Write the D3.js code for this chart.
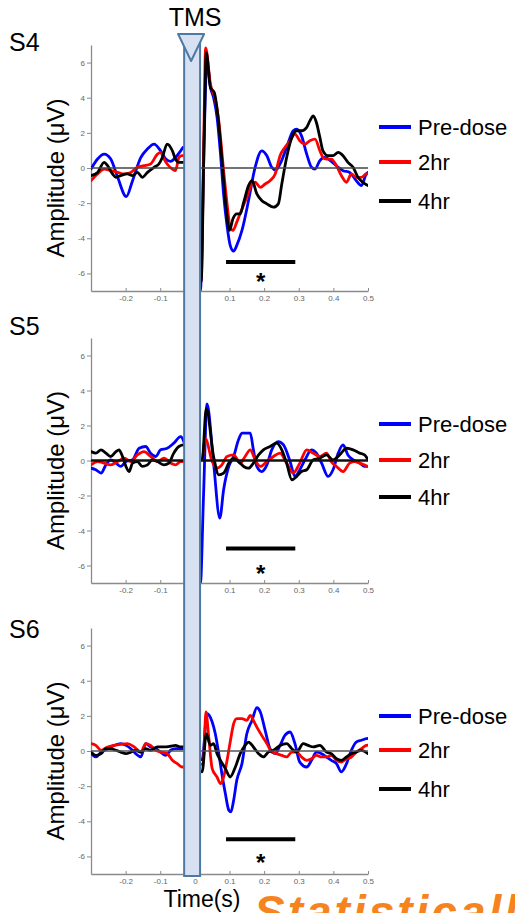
<!DOCTYPE html>
<html>
<head>
<meta charset="utf-8">
<script src="https://cdn.jsdelivr.net/npm/d3@7"></script>
<style>
  html, body { margin: 0; padding: 0; background: #fff; }
  svg { display: block; font-family: "Liberation Sans", Arial, sans-serif; }
</style>
</head>
<body>
<script>
// ---- data ----------------------------------------------------------------
const subjects = ["S4", "S5", "S6"];
const conditions = ["Pre-dose", "2hr", "4hr"];
const conditionColors = ["#0000ff", "#ff0000", "#000000"];

const timeTicks = [-0.2, -0.1, 0, 0.1, 0.2, 0.3, 0.4, 0.5];
const timeTickLabels = ["-0.2", "-0.1", "0", "0.1", "0.2", "0.3", "0.4", "0.5"];
const ampTicks = [-6, -4, -2, 0, 2, 4, 6];
const ampTickLabels = ["-6", "-4", "-2", "0", "2", "4", "6"];
const timeDomain = [-0.3, 0.5];
const ampDomain = [-7, 7];

// TMS pulse window (s) and significant window (s)
const tmsWindow = [-0.031, 0.015];
const sigWindow = [0.09, 0.29];
const sigBarLevel = [-5.35, -5.03, -5.02];
const sigStarLevel = [-6.2, -6.2, -6.1];

// TMS-evoked potentials, [time (s), amplitude (uV)]
const s4PreDose = [[-0.300,-0.06],[-0.281,0.51],[-0.262,0.79],[-0.243,0.51],[-0.223,-0.53],[-0.198,-1.63],[-0.180,-0.72],[-0.156,0.60],[-0.137,1.08],[-0.118,1.36],[-0.099,0.98],[-0.084,0.51],[-0.070,0.38],[-0.056,0.60],[-0.041,0.98],[-0.032,1.20],
  [0.016,-7.0],[0.025,0.0],[0.033,5.6],[0.036,5.9],[0.045,4.6],[0.054,4.0],[0.064,2.9],[0.074,0.8],[0.083,-1.5],[0.093,-3.3],[0.102,-4.4],[0.112,-4.73],[0.121,-4.4],[0.136,-3.55],[0.155,-1.85],[0.174,0.04],[0.193,0.98],[0.208,0.70],[0.222,0.04],[0.234,-0.11],[0.246,0.23],[0.265,1.17],[0.284,2.12],[0.294,2.21],[0.308,1.83],[0.323,0.79],[0.337,0.04],[0.347,-0.06],[0.361,0.42],[0.375,0.60],[0.394,0.38],[0.414,0.04],[0.428,-0.15],[0.447,-0.25],[0.466,-0.72],[0.481,-1.00],[0.495,-0.34],[0.500,-0.25]];
const s4Hr2 = [[-0.300,-0.72],[-0.281,-0.34],[-0.262,-0.06],[-0.243,-0.15],[-0.223,-0.25],[-0.204,-0.34],[-0.185,-0.25],[-0.166,0.04],[-0.147,0.13],[-0.128,0.23],[-0.108,0.79],[-0.099,0.89],[-0.089,0.51],[-0.080,0.23],[-0.065,-0.06],[-0.056,-0.15],[-0.046,0.60],[-0.037,0.70],[-0.032,0.70],
  [0.018,-6.5],[0.026,2.0],[0.031,6.84],[0.045,4.76],[0.059,3.91],[0.069,2.68],[0.083,-0.15],[0.093,-2.04],[0.102,-3.36],[0.110,-3.55],[0.121,-3.08],[0.136,-2.33],[0.150,-1.66],[0.165,-0.91],[0.174,-0.81],[0.189,-1.10],[0.203,-0.91],[0.217,-0.72],[0.232,-0.34],[0.246,0.70],[0.260,1.17],[0.275,1.55],[0.289,1.93],[0.303,1.55],[0.318,1.36],[0.332,1.55],[0.347,1.64],[0.361,0.98],[0.370,0.60],[0.380,0.51],[0.394,0.51],[0.409,0.13],[0.423,-0.43],[0.438,-0.81],[0.452,-0.34],[0.466,-0.53],[0.481,-0.53],[0.495,-0.34],[0.500,-0.34]];
const s4Hr4 = [[-0.300,-0.43],[-0.281,-0.25],[-0.262,0.32],[-0.252,0.13],[-0.238,-0.34],[-0.228,-0.53],[-0.214,-0.43],[-0.195,-0.34],[-0.180,-0.43],[-0.166,-0.25],[-0.152,-0.53],[-0.137,-0.25],[-0.118,0.04],[-0.104,0.23],[-0.094,0.60],[-0.080,1.36],[-0.065,0.98],[-0.056,0.51],[-0.046,0.32],[-0.032,0.32],
  [0.018,-6.5],[0.027,2.0],[0.033,6.56],[0.045,4.57],[0.056,4.29],[0.066,3.06],[0.080,0.04],[0.090,-2.23],[0.100,-3.55],[0.110,-2.89],[0.121,-2.61],[0.131,-2.61],[0.141,-1.95],[0.155,-1.00],[0.165,-0.72],[0.179,-1.47],[0.193,-1.85],[0.208,-2.04],[0.227,-2.23],[0.241,-2.04],[0.251,-0.91],[0.265,0.60],[0.280,1.74],[0.294,2.12],[0.308,2.12],[0.323,2.31],[0.332,2.68],[0.342,2.97],[0.351,2.59],[0.361,1.74],[0.370,0.98],[0.385,0.70],[0.399,0.70],[0.414,0.89],[0.428,0.70],[0.442,0.32],[0.457,0.04],[0.471,-0.53],[0.485,-0.81],[0.500,-1.00]];

const s5PreDose = [[-0.300,-0.44],[-0.286,-0.53],[-0.271,-0.72],[-0.257,-0.25],[-0.243,0.04],[-0.228,-0.15],[-0.214,-0.34],[-0.199,-0.06],[-0.180,0.04],[-0.161,0.70],[-0.142,0.80],[-0.128,0.42],[-0.113,0.23],[-0.099,0.61],[-0.080,0.70],[-0.061,0.99],[-0.041,1.37],[-0.032,1.08],
  [0.016,-7.0],[0.025,-2.0],[0.035,3.23],[0.054,-0.15],[0.072,-3.29],[0.083,-1.67],[0.098,-0.34],[0.112,0.23],[0.126,1.18],[0.136,1.56],[0.150,1.56],[0.160,1.56],[0.169,0.61],[0.179,-0.34],[0.193,-0.63],[0.208,-0.25],[0.222,0.61],[0.241,1.08],[0.256,0.89],[0.275,-0.06],[0.289,-0.91],[0.303,-0.53],[0.318,0.04],[0.337,0.61],[0.351,0.42],[0.366,-0.15],[0.385,-0.91],[0.399,-0.53],[0.414,0.42],[0.428,0.89],[0.442,0.32],[0.457,0.04],[0.476,-0.15],[0.490,-0.34],[0.500,-0.34]];
const s5Hr2 = [[-0.300,-0.25],[-0.281,-0.06],[-0.262,-0.15],[-0.243,-0.25],[-0.223,-0.06],[-0.204,0.13],[-0.185,-0.06],[-0.166,0.32],[-0.147,0.51],[-0.128,0.23],[-0.108,-0.06],[-0.089,0.13],[-0.070,-0.15],[-0.056,-0.25],[-0.041,-0.06],[-0.032,-0.06],
  [0.021,0.04],[0.030,1.27],[0.050,-0.06],[0.064,-0.44],[0.078,-0.25],[0.093,0.23],[0.112,0.32],[0.131,-0.15],[0.145,0.23],[0.160,0.61],[0.174,0.04],[0.189,-0.34],[0.208,-0.06],[0.227,0.23],[0.246,0.42],[0.265,-0.15],[0.284,-0.72],[0.303,-0.15],[0.323,0.61],[0.342,0.42],[0.361,0.23],[0.380,0.42],[0.394,-0.06],[0.409,-0.34],[0.428,-0.63],[0.447,-0.15],[0.462,-0.06],[0.476,-0.15],[0.500,-0.34]];
const s5Hr4 = [[-0.300,0.51],[-0.286,0.42],[-0.271,0.61],[-0.257,0.42],[-0.243,0.23],[-0.228,0.51],[-0.219,0.61],[-0.209,0.23],[-0.199,-0.34],[-0.190,-0.63],[-0.180,-0.15],[-0.166,-0.06],[-0.152,-0.34],[-0.137,-0.25],[-0.123,0.04],[-0.108,-0.06],[-0.089,-0.25],[-0.075,-0.15],[-0.061,0.42],[-0.046,0.80],[-0.032,0.89],
  [0.021,0.04],[0.033,2.98],[0.054,0.23],[0.069,-0.82],[0.083,-0.72],[0.098,-0.15],[0.112,0.13],[0.126,-0.06],[0.141,-0.34],[0.155,-0.44],[0.169,-0.15],[0.184,0.32],[0.198,0.61],[0.217,0.80],[0.236,0.99],[0.251,0.61],[0.265,-0.15],[0.280,-1.10],[0.294,-0.91],[0.308,-0.63],[0.323,-0.53],[0.342,0.04],[0.361,0.13],[0.380,0.32],[0.399,0.04],[0.418,0.32],[0.438,0.70],[0.457,0.61],[0.476,0.42],[0.490,0.32],[0.500,0.04]];

const s6PreDose = [[-0.300,-0.15],[-0.286,-0.34],[-0.271,-0.06],[-0.252,0.13],[-0.233,0.32],[-0.214,0.42],[-0.199,0.32],[-0.185,0.13],[-0.171,-0.15],[-0.156,-0.34],[-0.142,0.42],[-0.128,0.23],[-0.113,0.13],[-0.099,-0.06],[-0.084,-0.25],[-0.070,0.04],[-0.056,0.13],[-0.041,0.13],[-0.032,0.13],
  [0.021,-0.50],[0.035,2.12],[0.050,1.65],[0.059,0.98],[0.069,-0.15],[0.078,-1.29],[0.088,-2.42],[0.098,-3.37],[0.104,-3.47],[0.112,-2.80],[0.121,-1.67],[0.136,-0.72],[0.150,0.98],[0.165,1.74],[0.179,2.46],[0.189,2.22],[0.203,1.17],[0.217,0.13],[0.232,-0.15],[0.246,0.32],[0.260,0.89],[0.275,1.08],[0.289,0.42],[0.303,-0.63],[0.323,-0.91],[0.337,-0.53],[0.351,-0.06],[0.366,-0.15],[0.380,-0.34],[0.394,-0.53],[0.409,-0.72],[0.423,-1.19],[0.438,-0.72],[0.452,0.04],[0.466,0.51],[0.481,0.61],[0.495,0.70],[0.500,0.72]];
const s6Hr2 = [[-0.300,0.42],[-0.286,0.32],[-0.271,0.04],[-0.252,0.23],[-0.233,0.32],[-0.214,0.38],[-0.195,0.42],[-0.175,0.23],[-0.156,-0.06],[-0.142,0.42],[-0.128,0.32],[-0.113,0.04],[-0.099,-0.06],[-0.080,-0.15],[-0.065,-0.53],[-0.051,-0.72],[-0.037,-0.91],[-0.032,-0.91],
  [0.024,-0.72],[0.032,2.22],[0.040,0.80],[0.050,-1.00],[0.064,-1.48],[0.074,-1.86],[0.083,-1.48],[0.093,-0.53],[0.102,0.51],[0.112,1.55],[0.121,1.84],[0.136,1.84],[0.150,1.74],[0.160,2.03],[0.169,1.74],[0.179,1.36],[0.193,0.89],[0.208,0.42],[0.222,-0.06],[0.236,-0.15],[0.251,-0.25],[0.265,-0.34],[0.280,-0.06],[0.294,-0.06],[0.308,-0.34],[0.323,-0.53],[0.337,-0.44],[0.351,-0.25],[0.366,-0.34],[0.380,-0.34],[0.394,-0.25],[0.409,-0.53],[0.423,-0.63],[0.438,-0.44],[0.452,-0.34],[0.466,-0.06],[0.481,0.13],[0.495,0.32],[0.500,0.34]];
const s6Hr4 = [[-0.300,-0.06],[-0.286,-0.25],[-0.271,-0.15],[-0.257,0.13],[-0.243,0.13],[-0.228,0.04],[-0.214,-0.06],[-0.199,-0.15],[-0.185,-0.06],[-0.171,0.04],[-0.156,-0.06],[-0.142,0.13],[-0.128,0.04],[-0.108,0.23],[-0.089,0.23],[-0.070,0.27],[-0.056,0.32],[-0.041,0.23],[-0.032,0.23],
  [0.021,-1.19],[0.033,0.98],[0.045,0.32],[0.054,0.42],[0.064,-0.15],[0.074,-0.53],[0.088,-1.00],[0.102,-1.48],[0.117,-0.91],[0.131,-0.15],[0.145,0.32],[0.155,0.51],[0.169,0.23],[0.184,-0.15],[0.198,-0.34],[0.212,-0.06],[0.227,0.04],[0.246,0.32],[0.265,0.42],[0.280,0.13],[0.294,-0.06],[0.313,0.42],[0.327,0.32],[0.342,0.23],[0.361,0.32],[0.380,-0.06],[0.394,-0.15],[0.409,-0.44],[0.423,-0.53],[0.438,-0.34],[0.452,-0.15],[0.466,-0.06],[0.481,0.04],[0.500,-0.15]];

const subjectSeries = [
  [s4PreDose, s4Hr2, s4Hr4],
  [s5PreDose, s5Hr2, s5Hr4],
  [s6PreDose, s6Hr2, s6Hr4]
];

// ---- layout --------------------------------------------------------------
const W = 515, H = 913;
const plotLeft = 91, plotRight = 368;
const panelTop = [45, 338, 628];
const panelBottom = [291, 583, 874];
const subjectLabelY = [51, 335, 638];
const legendRowY = [[127, 162, 201], [424, 460, 497], [716, 750, 789]];
const zeroLineStyle = [
  { color: "#444", width: 1.3 },
  { color: "#111", width: 2.6 },
  { color: "#555", width: 1.5 }
];

const svg = d3.select("body").append("svg")
  .attr("width", W).attr("height", H);

const x = d3.scaleLinear().domain(timeDomain).range([plotLeft, plotRight]);

const line = d3.line().curve(d3.curveMonotoneX);

subjects.forEach((subj, p) => {
  const y = d3.scaleLinear().domain(ampDomain).range([panelBottom[p], panelTop[p]]);
  const g = svg.append("g");

  // clip for traces
  const clipId = "clip" + p;
  svg.append("clipPath").attr("id", clipId)
    .append("rect")
    .attr("x", plotLeft).attr("y", panelTop[p])
    .attr("width", plotRight - plotLeft).attr("height", panelBottom[p] - panelTop[p]);

  // axes
  const yAxis = d3.axisLeft(y)
    .tickValues(ampTicks)
    .tickFormat((d, i) => ampTickLabels[i])
    .tickSize(4).tickSizeOuter(0).tickPadding(2);
  const yg = g.append("g").attr("transform", `translate(${plotLeft},0)`).call(yAxis);

  const xAxis = d3.axisBottom(x)
    .tickValues(timeTicks)
    .tickFormat((d, i) => timeTickLabels[i])
    .tickSize(-3).tickSizeOuter(0).tickPadding(4);
  const xg = g.append("g").attr("transform", `translate(0,${panelBottom[p]})`).call(xAxis);

  [yg, xg].forEach(a => {
    a.select(".domain").attr("stroke", "#8a8a8a").attr("stroke-width", 1.3);
    a.selectAll(".tick line").attr("stroke", "#8a8a8a").attr("stroke-width", 1);
    a.selectAll(".tick text").attr("fill", "#666").style("font-size", "8px")
      .style("font-family", "'Liberation Sans', Arial, sans-serif");
  });

  // traces
  const traces = g.append("g").attr("clip-path", `url(#${clipId})`);
  subjectSeries[p].forEach((series, k) => {
    traces.append("path")
      .attr("d", line(series.map(d => [x(d[0]), y(d[1])])))
      .attr("fill", "none")
      .attr("stroke", conditionColors[k])
      .attr("stroke-width", 2.8)
      .attr("stroke-linejoin", "round")
      .attr("stroke-linecap", "round");
  });

  // zero line
  g.append("line")
    .attr("x1", x(timeDomain[0])).attr("x2", x(timeDomain[1]))
    .attr("y1", y(0)).attr("y2", y(0))
    .attr("stroke", zeroLineStyle[p].color)
    .attr("stroke-width", zeroLineStyle[p].width);

  // significance bar and star
  g.append("line")
    .attr("x1", x(sigWindow[0])).attr("x2", x(sigWindow[1]))
    .attr("y1", y(sigBarLevel[p])).attr("y2", y(sigBarLevel[p]))
    .attr("stroke", "#000").attr("stroke-width", 4);
  g.append("text")
    .attr("x", x((sigWindow[0] + sigWindow[1]) / 2))
    .attr("y", y(sigStarLevel[p]) + 13)
    .attr("text-anchor", "middle")
    .style("font-size", "24px").style("font-weight", "bold")
    .text("*");

  // subject label
  svg.append("text")
    .attr("x", 9).attr("y", subjectLabelY[p])
    .style("font-size", "25px")
    .text(subj);

  // y-axis title
  const cy = (panelTop[p] + panelBottom[p]) / 2 + 10;
  svg.append("text")
    .attr("transform", `translate(64,${cy}) rotate(-90)`)
    .attr("text-anchor", "middle")
    .style("font-size", "24px")
    .text("Amplitude (\u03bcV)");

  // legend
  conditions.forEach((c, k) => {
    const ly = legendRowY[p][k];
    svg.append("line")
      .attr("x1", 379).attr("x2", 411)
      .attr("y1", ly).attr("y2", ly)
      .attr("stroke", conditionColors[k]).attr("stroke-width", 4);
    svg.append("text")
      .attr("x", 418).attr("y", ly + 8)
      .style("font-size", "22px")
      .text(c);
  });
});

// TMS pulse band across all panels
svg.append("rect")
  .attr("x", x(tmsWindow[0])).attr("y", 34)
  .attr("width", x(tmsWindow[1]) - x(tmsWindow[0]))
  .attr("height", panelBottom[2] + 2 - 34)
  .attr("fill", "#d7e1f2")
  .attr("stroke", "#4d7aa5").attr("stroke-width", 2);

const tmsMid = (x(tmsWindow[0]) + x(tmsWindow[1])) / 2 - 1;
svg.append("path")
  .attr("d", `M${tmsMid - 13},34 L${tmsMid + 13},34 L${tmsMid},61 Z`)
  .attr("fill", "#d7e1f2")
  .attr("stroke", "#4d7aa5").attr("stroke-width", 2)
  .attr("stroke-linejoin", "round");

svg.append("text")
  .attr("x", tmsMid + 4).attr("y", 26)
  .attr("text-anchor", "middle")
  .style("font-size", "25px")
  .text("TMS");

svg.append("text")
  .attr("x", 202).attr("y", 907)
  .attr("text-anchor", "middle")
  .style("font-size", "23px")
  .text("Time(s)");

// footer caption, running off the lower edge
svg.append("text")
  .attr("x", 254).attr("y", 928)
  .style("font-size", "46px").style("font-weight", "bold").style("font-style", "italic")
  .style("letter-spacing", "3px")
  .attr("fill", "#f5841f")
  .text("Statistically significant");
</script>
</body>
</html>
